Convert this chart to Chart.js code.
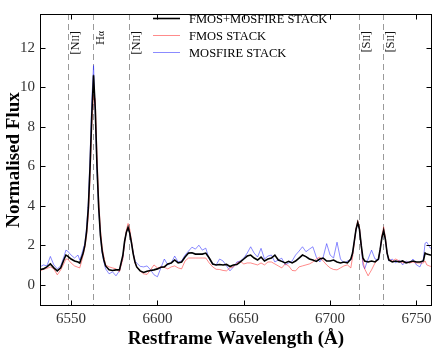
<!DOCTYPE html>
<html>
<head>
<meta charset="utf-8">
<script src="https://cdn.jsdelivr.net/npm/chart.js@4/dist/chart.umd.min.js"></script>
<style>
  body { margin: 0; background: #fff; }
  canvas { display: block; }
</style>
</head>
<body>
<canvas id="spectrumChart" width="436" height="352"></canvas>
<script>
// restframe wavelength grid (Angstrom)
const waves = [
  6532, 6534, 6536, 6538, 6540, 6542, 6544, 6546, 6547, 6548,
  6550, 6552, 6554, 6555, 6556, 6557, 6558, 6559, 6560, 6561,
  6562, 6563, 6564, 6565, 6566, 6567, 6568, 6569, 6570, 6572,
  6574, 6576, 6578, 6580, 6581, 6582, 6583, 6584, 6585, 6586,
  6587, 6588, 6590, 6592, 6594, 6596, 6598, 6600, 6602, 6604,
  6606, 6608, 6610, 6612, 6614, 6616, 6618, 6620, 6622, 6624,
  6626, 6628, 6630, 6632, 6634, 6636, 6638, 6640, 6642, 6644,
  6646, 6648, 6650, 6652, 6654, 6656, 6658, 6660, 6662, 6664,
  6666, 6668, 6670, 6672, 6674, 6676, 6678, 6680, 6682, 6684,
  6686, 6688, 6690, 6692, 6694, 6696, 6698, 6700, 6702, 6704,
  6706, 6708, 6710, 6712, 6713, 6714, 6715, 6716, 6717, 6718,
  6719, 6720, 6722, 6724, 6726, 6728, 6729, 6730, 6731, 6732,
  6733, 6734, 6736, 6738, 6740, 6742, 6744, 6746, 6748, 6750,
  6752, 6754, 6755, 6756, 6758, 6760
];

// FMOS+MOSFIRE stack
const stackFlux = [
  0.77, 0.80, 0.90, 1.05, 0.85, 0.70, 0.85, 1.30, 1.50, 1.45,
  1.30, 1.20, 1.15, 1.10, 1.35, 1.60, 2.00, 2.70, 3.90, 6.00,
  8.60, 10.60, 8.90, 6.00, 3.90, 2.50, 1.70, 1.25, 0.95, 0.75,
  0.72, 0.75, 0.75, 1.50, 2.20, 2.65, 2.90, 2.60, 2.10, 1.55,
  1.15, 0.90, 0.70, 0.62, 0.68, 0.72, 0.75, 0.80, 0.88, 0.90,
  1.05, 1.10, 1.25, 1.10, 1.15, 1.40, 1.60, 1.62, 1.55, 1.55,
  1.55, 1.60, 1.35, 1.05, 1.00, 1.02, 1.00, 1.03, 0.92, 1.00,
  1.02, 1.15, 1.30, 1.45, 1.50, 1.35, 1.25, 1.40, 1.20, 1.30,
  1.35, 1.50, 1.25, 1.18, 1.10, 1.18, 1.10, 1.20, 1.35, 1.50,
  1.42, 1.30, 1.25, 1.18, 1.30, 1.35, 1.20, 1.20, 1.25, 1.15,
  1.10, 1.15, 1.10, 1.30, 1.60, 2.20, 2.80, 3.15, 2.80, 2.00,
  1.35, 1.20, 1.15, 1.20, 1.15, 1.30, 1.80, 2.40, 2.75, 2.30,
  1.60, 1.25, 1.15, 1.20, 1.15, 1.20, 1.10, 1.15, 1.20, 1.15,
  1.15, 1.20, 1.60, 1.55, 1.50, 1.50
];

// FMOS stack
const fmosFlux = [
  0.69, 0.78, 0.82, 0.90, 0.80, 0.50, 0.75, 1.10, 1.30, 1.30,
  1.10, 0.95, 0.88, 0.85, 1.15, 1.50, 1.90, 2.50, 3.50, 5.40,
  8.00, 9.60, 9.40, 6.60, 4.30, 2.80, 1.90, 1.40, 1.00, 0.90,
  0.85, 0.80, 0.65, 1.30, 2.10, 2.75, 3.10, 2.80, 2.20, 1.60,
  1.10, 0.90, 0.69, 0.55, 0.52, 0.75, 1.00, 0.85, 0.90, 0.88,
  0.80, 0.90, 0.95, 0.85, 0.80, 1.20, 1.35, 1.35, 1.35, 1.35,
  1.35, 1.35, 1.10, 0.90, 0.78, 0.77, 0.72, 0.70, 0.85, 0.90,
  1.10, 1.18, 1.05, 1.10, 1.10, 1.05, 1.00, 1.10, 1.00, 1.15,
  1.15, 1.05, 0.95, 0.85, 1.05, 0.95, 0.72, 0.70, 0.90, 0.95,
  1.00, 1.05, 1.15, 1.30, 1.40, 1.20, 1.00, 0.85, 0.77, 0.75,
  0.85, 0.95, 1.00, 0.85, 1.40, 2.10, 2.85, 3.25, 2.90, 2.00,
  1.20, 0.80, 0.45, 0.75, 1.10, 1.30, 1.75, 2.50, 2.93, 2.40,
  1.60, 1.30, 1.20, 1.30, 1.20, 1.10, 1.15, 1.10, 1.15, 1.10,
  1.10, 1.10, 1.20, 1.00, 0.93, 0.95
];

// MOSFIRE stack
const mosfireFlux = [
  0.90, 1.00, 0.95, 1.43, 1.00, 0.80, 0.95, 1.45, 1.75, 1.70,
  1.50, 1.35, 1.50, 1.25, 1.50, 1.80, 2.10, 2.90, 4.20, 6.50,
  9.30, 11.10, 8.70, 5.80, 3.80, 2.50, 1.60, 1.15, 0.80, 0.55,
  0.65, 0.45, 0.70, 1.40, 2.20, 2.65, 2.90, 2.60, 2.10, 1.60,
  1.20, 1.10, 0.93, 0.90, 0.95, 0.75, 0.50, 0.40, 0.85, 1.30,
  1.00, 1.10, 1.45, 1.15, 1.20, 1.50, 1.70, 1.90, 1.80, 2.00,
  1.75, 1.85, 1.30, 1.05, 1.00, 1.30, 1.20, 0.95, 0.70, 0.90,
  1.15, 1.20, 1.35, 1.60, 1.92, 1.60, 1.40, 1.84, 1.30, 1.45,
  1.50, 1.15, 1.25, 1.34, 1.00, 1.10, 1.20, 1.50, 1.70, 1.92,
  1.67, 1.80, 1.92, 1.40, 1.15, 1.40, 2.08, 1.50, 1.35, 2.15,
  1.30, 1.10, 1.20, 1.25, 1.55, 2.20, 2.80, 3.10, 2.80, 2.00,
  1.00, 0.80, 1.30, 1.75, 1.30, 1.25, 1.80, 2.40, 2.75, 2.30,
  1.60, 1.20, 1.30, 1.10, 1.25, 1.00, 1.20, 1.10, 1.30, 1.00,
  0.90, 1.30, 2.10, 2.15, 1.85, 1.90
];

const xTicks = [6550, 6600, 6650, 6700, 6750];
const yTicks = [0, 2, 4, 6, 8, 10, 12];

// emission lines marked with dashed lines
const lineWaves = [6548.05, 6562.8, 6583.45, 6716.44, 6730.82];
const lineNames = ["[NII]", "Hα", "[NII]", "[SII]", "[SII]"];

const SERIF = "'Liberation Serif', 'DejaVu Serif', serif";
Chart.defaults.font.family = SERIF;

const toPoints = ys => waves.map((w, i) => ({ x: w, y: ys[i] }));

// label drawn as big first letter + small caps rest
function drawLineLabel(ctx, name) {
  const m = name.match(/^(\[?.)(.*?)(\]?)$/);
  const parts = [[m[1], 12.5], [m[2], 9.5], [m[3], 12.5]];
  let total = 0;
  parts.forEach(p => {
    ctx.font = p[1] + "px " + SERIF;
    total += ctx.measureText(p[0]).width;
  });
  let pos = -total;
  parts.forEach(p => {
    ctx.font = p[1] + "px " + SERIF;
    ctx.fillText(p[0], pos, 4.5);
    pos += ctx.measureText(p[0]).width;
  });
}

const spectrumDecor = {
  id: "spectrumDecor",
  beforeDatasetsDraw(chart) {
    const { ctx, chartArea: a, scales: { x } } = chart;
    ctx.save();
    ctx.strokeStyle = "#9a9a9a";
    ctx.lineWidth = 1;
    ctx.setLineDash([6, 4]);
    lineWaves.forEach((w, i) => {
      const px = Math.round(x.getPixelForValue(w)) + 0.5;
      ctx.beginPath();
      ctx.moveTo(px, a.top);
      ctx.lineTo(px, a.bottom);
      ctx.stroke();

      ctx.save();
      ctx.translate(px + 6, 31);
      ctx.rotate(-Math.PI / 2);
      ctx.fillStyle = "#111";
      ctx.textBaseline = "alphabetic";
      ctx.textAlign = "left";
      drawLineLabel(ctx, lineNames[i]);
      ctx.restore();
    });
    ctx.restore();
  },
  afterDraw(chart) {
    const { ctx, chartArea: a, scales: { x, y } } = chart;
    ctx.save();
    ctx.strokeStyle = "#000";
    ctx.lineWidth = 1;
    const l = Math.round(a.left) + 0.5, r = Math.round(a.right) - 0.5;
    const t = Math.round(a.top) + 0.5, b = Math.round(a.bottom) - 0.5;
    ctx.strokeRect(l, t, r - l, b - t);

    // inward ticks on all four sides
    ctx.beginPath();
    xTicks.forEach(v => {
      const px = Math.round(x.getPixelForValue(v)) + 0.5;
      ctx.moveTo(px, b); ctx.lineTo(px, b - 5);
      ctx.moveTo(px, t); ctx.lineTo(px, t + 5);
    });
    yTicks.forEach(v => {
      const py = Math.round(y.getPixelForValue(v)) + 0.5;
      ctx.moveTo(l, py); ctx.lineTo(l + 5, py);
      ctx.moveTo(r, py); ctx.lineTo(r - 5, py);
    });
    ctx.stroke();

    // legend
    ctx.font = "12.5px " + SERIF;
    ctx.textBaseline = "middle";
    ctx.fillStyle = "#000";
    chart.data.datasets.forEach((ds, i) => {
      const ly = 18.5 + i * 17;
      ctx.strokeStyle = ds.borderColor;
      ctx.lineWidth = ds.borderWidth;
      ctx.beginPath();
      ctx.moveTo(153, ly);
      ctx.lineTo(180, ly);
      ctx.stroke();
      ctx.fillText(ds.label, 189, ly + 1);
    });
    ctx.restore();
  }
};

const ctx = document.getElementById("spectrumChart").getContext("2d");
new Chart(ctx, {
  type: "line",
  data: {
    datasets: [
      { label: "FMOS+MOSFIRE STACK", data: toPoints(stackFlux), borderColor: "#000", borderWidth: 1.6 },
      { label: "FMOS STACK", data: toPoints(fmosFlux), borderColor: "rgba(255,40,40,0.6)", borderWidth: 0.9 },
      { label: "MOSFIRE STACK", data: toPoints(mosfireFlux), borderColor: "rgba(40,40,255,0.6)", borderWidth: 0.9 }
    ]
  },
  options: {
    responsive: false,
    animation: false,
    devicePixelRatio: 1,
    layout: { padding: { top: 4, right: 4, left: 0, bottom: 0 } },
    elements: { point: { radius: 0 }, line: { tension: 0, fill: false } },
    plugins: { legend: { display: false }, tooltip: { enabled: false } },
    scales: {
      x: {
        type: "linear",
        min: 6532,
        max: 6759,
        grid: { display: false, drawTicks: false },
        border: { display: false },
        afterBuildTicks: s => { s.ticks = xTicks.map(v => ({ value: v })); },
        afterFit: s => { s.height = 46; },
        ticks: { font: { size: 15 }, color: "#333", padding: 4, maxRotation: 0, callback: v => String(v) },
        title: {
          display: true,
          text: "Restframe Wavelength (Å)",
          color: "#000",
          font: { size: 19, weight: "bold" },
          padding: { top: 0, bottom: 2 }
        }
      },
      y: {
        min: -1.08,
        max: 13.71,
        grid: { display: false, drawTicks: false },
        border: { display: false },
        afterBuildTicks: s => { s.ticks = yTicks.map(v => ({ value: v })); },
        afterFit: s => { s.width = 40; },
        ticks: { font: { size: 15 }, color: "#333", padding: 5, callback: v => String(v) },
        title: {
          display: true,
          text: "Normalised Flux",
          color: "#000",
          font: { size: 19, weight: "bold" },
          padding: { top: 3, bottom: 0 }
        }
      }
    }
  },
  plugins: [spectrumDecor]
});
</script>
</body>
</html>
